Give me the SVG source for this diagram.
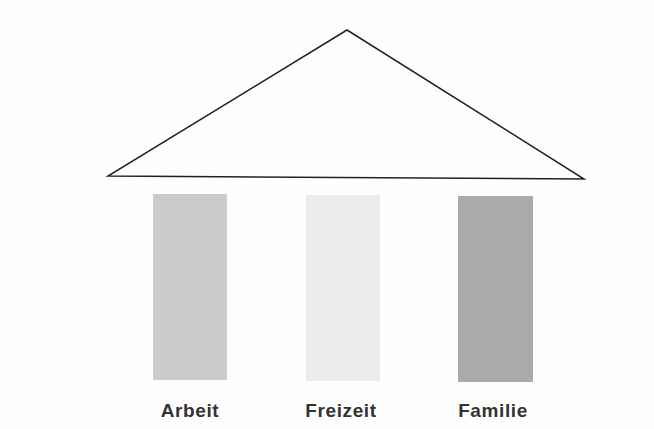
<svg xmlns="http://www.w3.org/2000/svg" width="654" height="429" viewBox="0 0 654 429">
<style>
.lbl{font-family:"Liberation Sans",Arial,sans-serif;font-weight:bold;font-size:19px;fill:#333;text-anchor:middle;letter-spacing:0.6px}
.roof{fill:none;stroke:#222;stroke-width:1.5;stroke-linejoin:miter}
</style>
<rect width="654" height="429" fill="#fefefe"/>
<g id="roof"><polygon class="roof" points="347,30 108,176 584,179"/></g>
<g id="arbeit"><rect x="153" y="194" width="74" height="186" fill="#cbcbcb"/><text class="lbl" x="190" y="417">Arbeit</text></g>
<g id="freizeit"><rect x="306" y="195" width="74" height="186" fill="#ebebeb"/><text class="lbl" x="341" y="417">Freizeit</text></g>
<g id="familie"><rect x="458" y="196" width="75" height="186" fill="#aaaaaa"/><text class="lbl" x="493" y="417">Familie</text></g>
<g id="connectors"></g>
</svg>
